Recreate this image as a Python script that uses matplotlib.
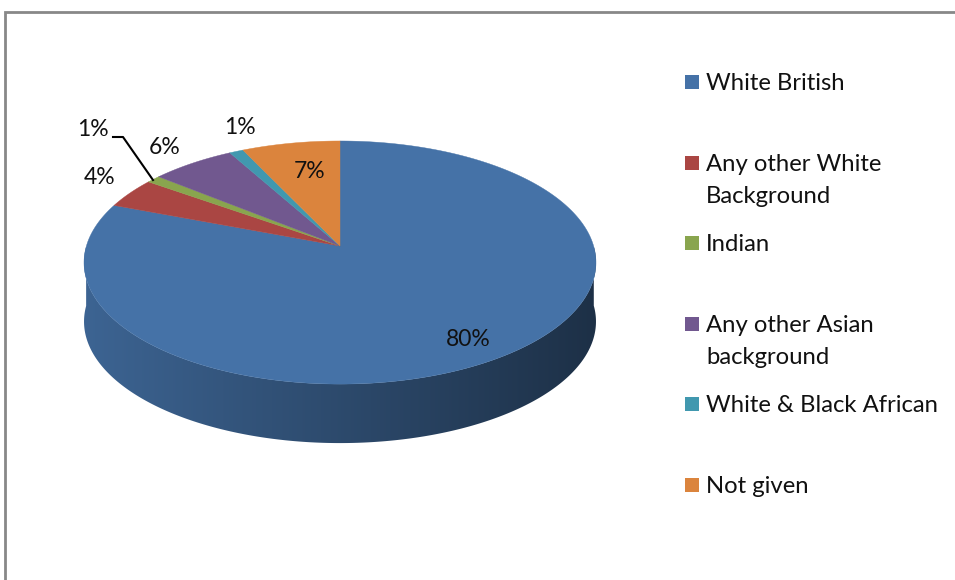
import numpy as np
import matplotlib
matplotlib.use("Agg")
import matplotlib.pyplot as plt
from matplotlib.patches import Polygon, Rectangle
from matplotlib.colors import to_rgb

# ---- data ----
categories = ["White British", "Any other White\nBackground", "Indian",
              "Any other Asian\nbackground", "White & Black African", "Not given"]
values = [80, 4, 1, 6, 1, 7]
colors = ["#4572A7", "#AA4643", "#89A54E", "#71588F", "#4198AF", "#DB843D"]

# ---- layout ----
CX, CY = 340.0, 246.0          # apex of pie (pixels)
A, B, K = 253.6, 119.3, 0.136  # perspective projection params
DEPTH = 59.0
LABEL_POS = [(468, 339), (100, 177), (93, 130), (165, 147), (240, 128), (310, 172)]
LEADER = {2: [(113, 137), (123, 137), (153, 180)]}

plt.rcParams['font.family'] = ['Lato', 'DejaVu Sans']

fig = plt.figure(figsize=(9.55, 5.8), dpi=100)
ax = fig.add_axes([0, 0, 1, 1])
ax.set_xlim(0, 955)
ax.set_ylim(580, 0)
ax.axis('off')


def proj(theta, r=1.0, dy=0.0):
    X = r * np.cos(theta)
    Z = r * np.sin(theta)
    d = 1 + K * Z
    return CX + A * X / d, CY - B * Z / d + dy


total = float(sum(values))
angles = [np.pi / 2]
for v in values:
    angles.append(angles[-1] - 2 * np.pi * v / total)

# side walls (front visible part)
for i, v in enumerate(values):
    t = np.linspace(angles[i], angles[i + 1], 600)
    vis = np.sin(t) <= 0
    if not vis.any():
        continue
    idx = np.where(vis)[0]
    runs = np.split(idx, np.where(np.diff(idx) > 1)[0] + 1)
    base = np.array(to_rgb(colors[i]))
    for run in runs:
        tt = t[run]
        xt, yt = proj(tt)
        xb, yb = proj(tt, dy=DEPTH)
        pts = np.column_stack([np.concatenate([xt, xb[::-1]]),
                               np.concatenate([yt, yb[::-1]])])
        poly = Polygon(pts, closed=True, facecolor='none', edgecolor='none')
        ax.add_patch(poly)
        x0, x1 = CX - A * 1.02, CX + A * 1.02
        fac = np.linspace(0.88, 0.42, 400)
        grad = (base[None, :] * fac[:, None])[None, :, :]
        im = ax.imshow(grad, extent=(x0, x1, CY + 200, CY - 50), aspect='auto',
                       interpolation='bilinear', zorder=1)
        im.set_clip_path(poly)

# top face
for i, v in enumerate(values):
    t = np.linspace(angles[i], angles[i + 1], 300)
    xs, ys = proj(t)
    pts = np.column_stack([np.concatenate([[CX], xs]), np.concatenate([[CY], ys])])
    ax.add_patch(Polygon(pts, closed=True, facecolor=colors[i], edgecolor=colors[i],
                         linewidth=0.3, zorder=2))

# data labels
for i, v in enumerate(values):
    x, y = LABEL_POS[i]
    ax.text(x, y, f"{v}%", fontsize=16.5, color='#111111', ha='center', va='center', zorder=5)
for i, pts in LEADER.items():
    xs, ys = zip(*pts)
    ax.plot(xs, ys, color='black', linewidth=1.5, zorder=4)

# legend
for i, name in enumerate(categories):
    y = 82 + i * 80.6
    ax.add_patch(Rectangle((685, y - 7), 14, 14, facecolor=colors[i], edgecolor='none', zorder=3))
    for j, line in enumerate(name.split("\n")):
        ax.text(706, y + 8 + j * 32, line, fontsize=17.2, color='#111111',
                ha='left', va='baseline', zorder=3)

# frame
ax.plot([5, 5, 955], [580, 12, 12], color='#888888', linewidth=2, zorder=6,
        solid_joinstyle='miter')

fig.savefig("out.png", dpi=100)
